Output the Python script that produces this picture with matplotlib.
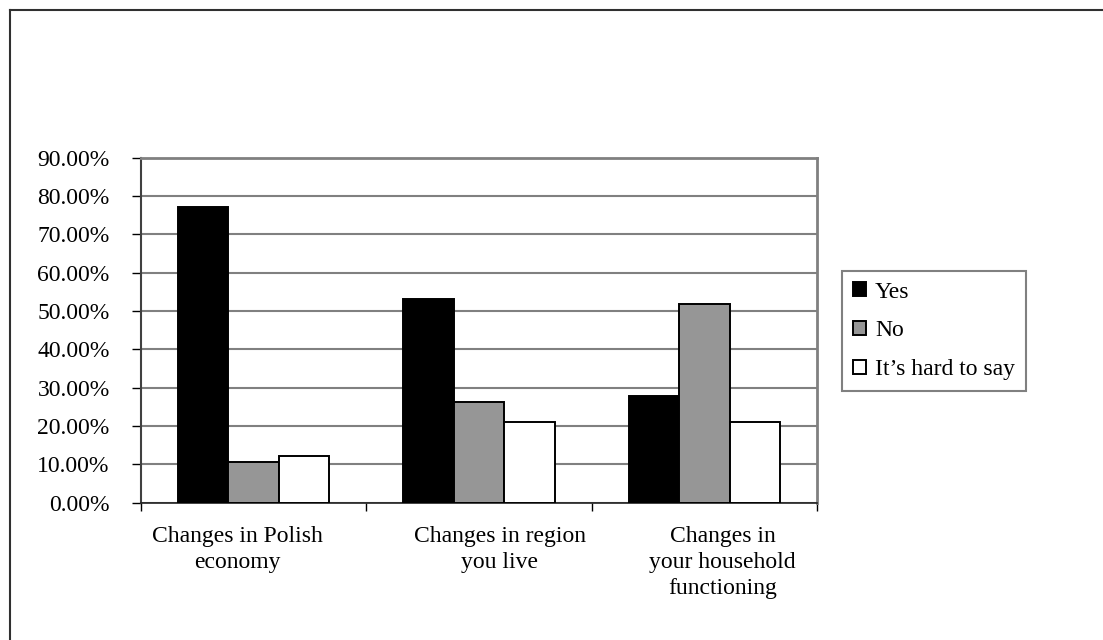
import numpy as np
import matplotlib
matplotlib.use("Agg")
import matplotlib.pyplot as plt
import matplotlib.transforms as mtransforms
from matplotlib.lines import Line2D
from matplotlib.ticker import FuncFormatter, MultipleLocator

plt.rcParams['font.family'] = ['Liberation Serif', 'DejaVu Serif']
plt.rcParams['font.size'] = 17

# Survey answers (percent of respondents)
categories = ["Changes in Polish\neconomy",
              "Changes in region\nyou live",
              "Changes in\nyour household\nfunctioning"]
series_names = ["Yes", "No", "It\u2019s hard to say"]
yes_vals = [77.0, 53.0, 27.8]
no_vals = [10.6, 26.3, 51.8]
hard_vals = [12.1, 20.9, 20.9]

colors = ["#000000", "#969696", "#ffffff"]

fig = plt.figure(figsize=(11.03, 6.4), dpi=100)
ax = fig.add_axes([0.1278, 0.2148, 0.6129, 0.5391])

x = np.arange(len(categories))
w = 0.224
for i, (vals, col, name) in enumerate(zip([yes_vals, no_vals, hard_vals], colors, series_names)):
    ax.bar(x + (i - 1) * w, vals, w, color=col, edgecolor="black",
           linewidth=1.4, label=name, zorder=3)

ax.set_xlim(-0.5, 2.5)
ax.set_ylim(0, 90)
ax.yaxis.set_major_locator(MultipleLocator(10))
ax.yaxis.set_major_formatter(FuncFormatter(lambda v, p: f"{v:.2f}%"))
ax.grid(axis="y", color="#808080", linewidth=1.5, zorder=0)

# category boundaries carry the ticks, names sit in between
ax.set_xticks([-0.5, 0.5, 1.5, 2.5])
ax.set_xticklabels([])
ax.set_xticks(x, minor=True)
ax.set_xticklabels(categories, minor=True, linespacing=1.3)
ax.tick_params(axis="x", which="minor", length=0, pad=17)
ax.tick_params(axis="x", which="major", length=6, width=1, color="black", direction="out")
ax.tick_params(axis="y", length=6.5, width=1, color="black", direction="out", pad=16)

# wrapped labels are nudged sideways a little (in points)
for lbl, dx in zip(ax.get_xticklabels(minor=True), [-12, 15, 13]):
    lbl.set_transform(lbl.get_transform() + mtransforms.ScaledTranslation(dx / 72, 0, fig.dpi_scale_trans))

for s in ["top", "right"]:
    ax.spines[s].set_color("#808080")
    ax.spines[s].set_linewidth(2)
ax.spines["left"].set_color("#404040")
ax.spines["left"].set_linewidth(1.5)
ax.spines["bottom"].set_color("#202020")
ax.spines["bottom"].set_linewidth(1.2)

leg = fig.legend(loc="upper left", bbox_to_anchor=(842 / 1103, 1 - 271 / 640),
                 borderaxespad=0, frameon=True, fancybox=False,
                 handlelength=0.55, handleheight=0.55, handletextpad=0.4,
                 labelspacing=0.75, borderpad=0.45, fontsize=17)
leg.get_frame().set_edgecolor("#606060")
leg.get_frame().set_linewidth(1.5)

# outer chart border
fig.add_artist(Line2D([10 / 1103, 1], [1 - 10 / 640, 1 - 10 / 640], color="#303030", linewidth=1.5))
fig.add_artist(Line2D([10 / 1103, 10 / 1103], [0, 1 - 10 / 640], color="#303030", linewidth=1.5))

fig.savefig("out.png", dpi=100)
